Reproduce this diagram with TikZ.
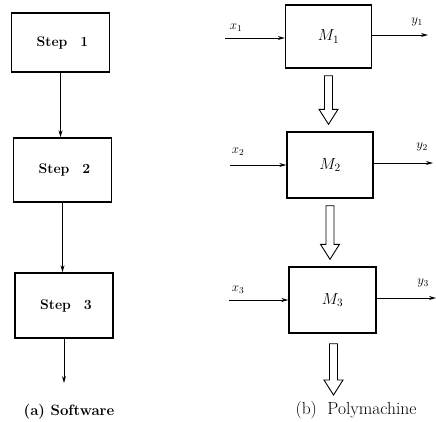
\RequirePackage{fix-cm}
\documentclass[tikz,border=0pt]{standalone}
\usetikzlibrary{arrows.meta,calc}
\begin{document}
\begin{tikzpicture}[x=1pt,y=-1pt,
  stepbox/.style={draw,line width=1.4pt,minimum width=98pt,inner sep=0pt,font=\bfseries\fontsize{14}{17}\selectfont},
  mbox/.style={draw,line width=1.4pt,minimum width=86pt,minimum height=65pt,inner sep=0pt,font=\fontsize{16}{19}\selectfont},
  flow/.style={line width=0.9pt,-{Stealth[length=7pt,width=4pt]}},
  lbl/.style={font=\fontsize{13}{15}\selectfont,inner sep=0pt},
  hollow/.style={draw,line width=0.9pt,fill=white,line join=miter}]
\useasboundingbox (0,0) rectangle (436,421);
% left column
\node[stepbox,minimum height=59pt] (s1) at (60.5,42.5) {\hspace{4pt}Step\hspace{13pt}1};
\node[stepbox,minimum height=64pt] (s2) at (62.5,170) {\hspace{4pt}Step\hspace{13pt}2};
\node[stepbox,minimum height=65pt] (s3) at (64,305.5) {\hspace{4pt}Step\hspace{13pt}3};
\coordinate (send) at (64,383);
\draw[flow] (s1.south) -- (s1.south |- s2.north);
\draw[flow] (s2.south) -- (s2.south |- s3.north);
\draw[flow] (s3.south) -- (s3.south |- send);
\node[font=\bfseries\fontsize{15}{18}\selectfont,anchor=base] (ca) at (69,415) {(a)\ Software};
% right column
\node[mbox,minimum height=63pt] (m1) at (328.5,36.5) {$M_1$};
\node[mbox,minimum height=66pt] (m2) at (330,165) {$M_2$};
\node[mbox,minimum height=66pt,minimum width=87pt] (m3) at (332.5,300) {$M_3$};
\coordinate (x1) at (225,38);
\coordinate (x2) at (230,165);
\coordinate (x3) at (229,300);
\coordinate (y1) at (428,35);
\coordinate (y2) at (433,163);
\coordinate (y3) at (436,298);
\draw[flow] (x1) -- (x1 -| m1.west);
\draw[flow] (x2) -- (x2 -| m2.west);
\draw[flow] (x3) -- (x3 -| m3.west);
\draw[flow] (y1 -| m1.east) -- (y1);
\draw[flow] (y2 -| m2.east) -- (y2);
\draw[flow] (y3 -| m3.east) -- (y3);
\node[lbl] (lx1) at (236,28) {$x_1$};
\node[lbl] (ly1) at (417,22) {$y_1$};
\node[lbl] (lx2) at (238,152) {$x_2$};
\node[lbl] (ly2) at (422,147) {$y_2$};
\node[lbl] (lx3) at (238,290) {$x_3$};
\node[lbl] (ly3) at (423,283) {$y_3$};
% hollow arrows
\coordinate (h3) at (333.5,395);
\foreach \a/\b in {m1.south/m2.north, m2.south/m3.north} {
  \draw[hollow] let \p1=($(\a)+(0,7)$), \p2=($(\b)+(0,-7)$) in
    (\x1-4,\y1) -- (\x1+4,\y1) -- (\x1+4,\y2+15) -- (\x1+9.5,\y2+15) -- (\x1,\y2)
    -- (\x1-9.5,\y2+15) -- (\x1-4,\y2+15) -- cycle;
}
\draw[hollow] let \p1=($(m3.south)+(1,10)$), \p2=(h3) in
    (\x1-4,\y1) -- (\x1+4,\y1) -- (\x1+4,\y2+15) -- (\x1+9.5,\y2+15) -- (\x1,\y2)
    -- (\x1-9.5,\y2+15) -- (\x1-4,\y2+15) -- cycle;
\node[font=\fontsize{17.5}{20}\selectfont,anchor=base] (cb) at (356,414.5) {(b)\ \ Polymachine};
\end{tikzpicture}
\end{document}
